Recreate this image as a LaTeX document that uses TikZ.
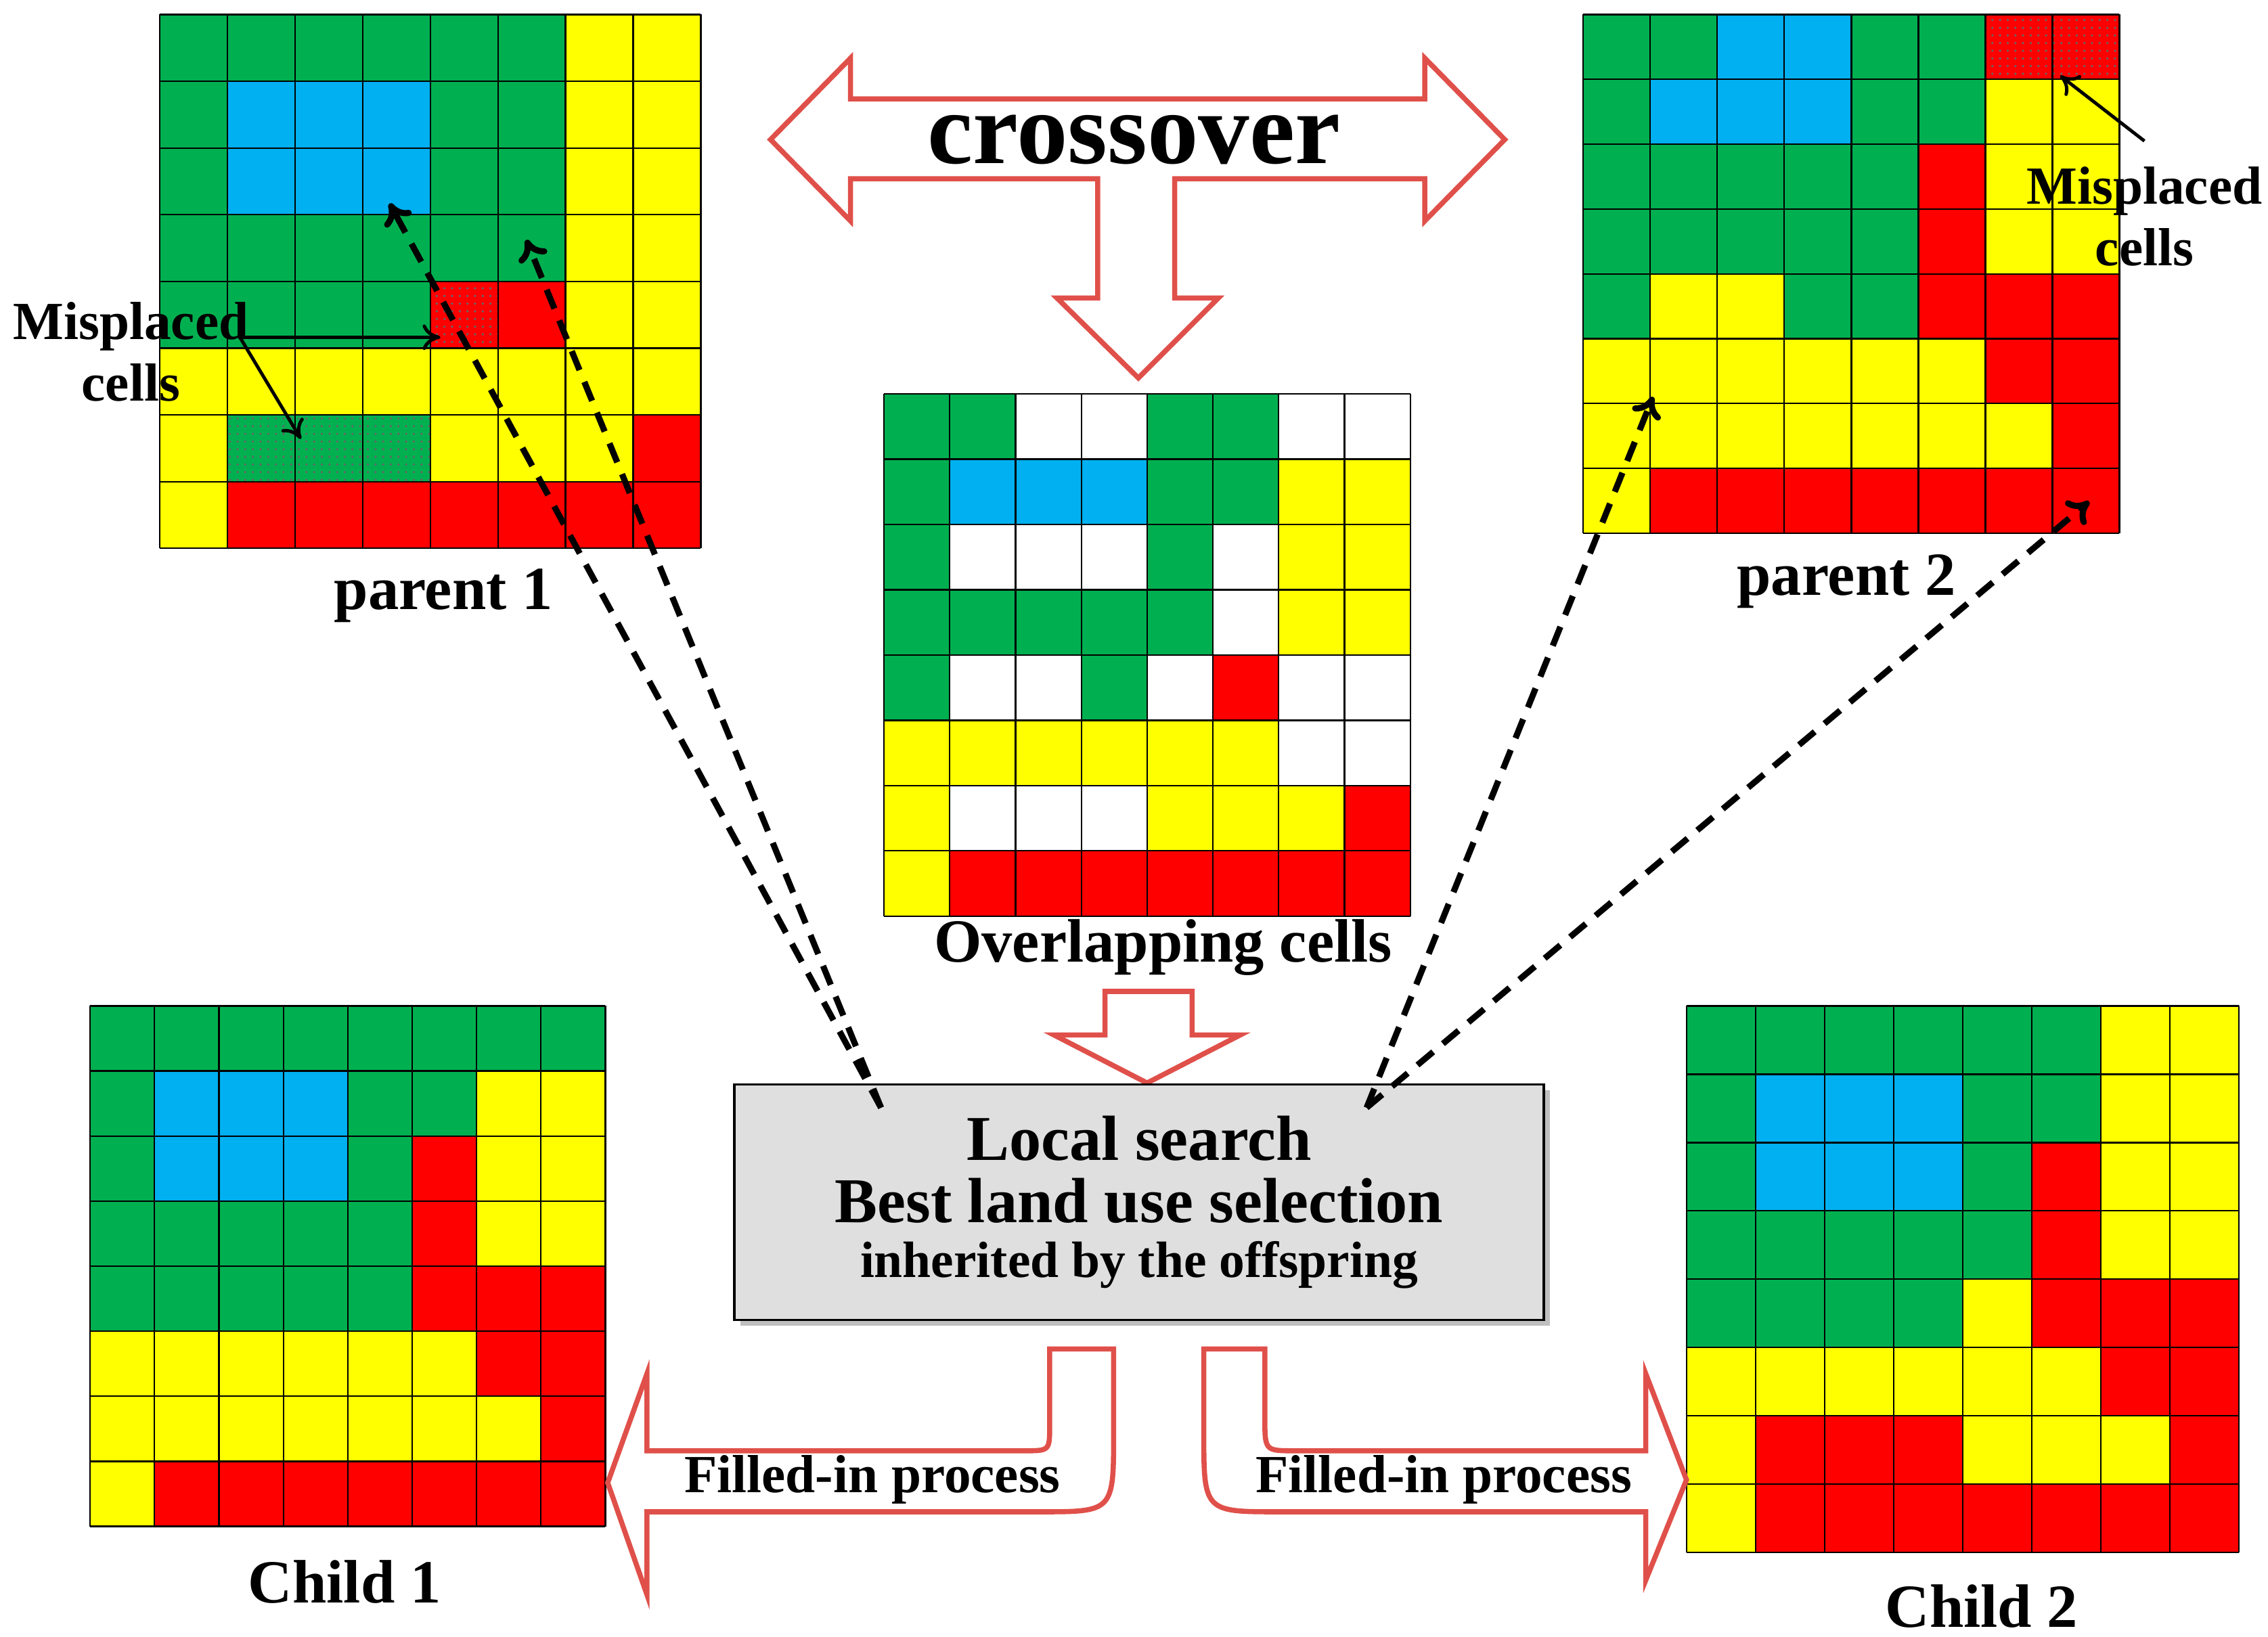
\documentclass[tikz,border=0pt]{standalone}
\usepackage{tikz}
\usepackage{fontspec}
\setmainfont{Liberation Serif}
\usetikzlibrary{patterns,shadows,arrows.meta}
\definecolor{cG}{HTML}{00B050}
\definecolor{cB}{HTML}{00B0F0}
\definecolor{cY}{HTML}{FFFF00}
\definecolor{cR}{HTML}{FF0000}
\definecolor{cW}{HTML}{FFFFFF}
\definecolor{arrowred}{HTML}{E0504A}
\tikzset{
  cell G/.style={fill=cG}, cell B/.style={fill=cB}, cell Y/.style={fill=cY},
  cell R/.style={fill=cR}, cell W/.style={fill=cW},
  cell D/.style={fill=cR, postaction={pattern=dots, pattern color=black!60}},
  cell E/.style={fill=cG, postaction={pattern=dots, pattern color=black!60}},
  gridline/.style={draw=black, line width=0.6pt},
  lbl/.style={font=\bfseries\fontsize{24}{28}\selectfont},
  mis/.style={font=\bfseries\fontsize{21}{24}\selectfont, align=center},
  blockarrow/.style={draw=arrowred, line width=2pt, fill=white},
  dasharrow/.style={line width=2.4pt, dash pattern=on 8pt off 5pt, -{To[length=8pt,width=12pt]}},
  misarrow/.style={line width=1.3pt, -{To[length=7pt,width=10pt]}}
}
% #1 left, #2 top, #3 cell width, #4 cell height, #5 rows
\newcommand\landgrid[5]{%
  \foreach \row [count=\j] in {#5} {
    \foreach \c [count=\i] in \row {
      \path[cell \c] ({#1+(\i-1)*#3},{#2+(\j-1)*#4}) rectangle ++(#3,#4);
    }
  }
  \foreach \k in {0,...,8} {
    \draw[gridline] ({#1+\k*#3},#2) -- ++(0,8*#4);
    \draw[gridline] (#1,{#2+\k*#4}) -- ++(8*#3,0);
  }
}
\begin{document}
\begin{tikzpicture}[x=0.02cm,y=-0.02cm]
\useasboundingbox (0,0) rectangle (1560,1126);

% grids
\landgrid{110}{10}{46.5}{45.9}{{G,G,G,G,G,G,Y,Y},{G,B,B,B,G,G,Y,Y},{G,B,B,B,G,G,Y,Y},{G,G,G,G,G,G,Y,Y},{G,G,G,G,D,R,Y,Y},{Y,Y,Y,Y,Y,Y,Y,Y},{Y,E,E,E,Y,Y,Y,R},{Y,R,R,R,R,R,R,R}}
\landgrid{1089}{10}{46.1}{44.6}{{G,G,B,B,G,G,D,D},{G,B,B,B,G,G,Y,Y},{G,G,G,G,G,R,Y,Y},{G,G,G,G,G,R,Y,Y},{G,Y,Y,G,G,R,R,R},{Y,Y,Y,Y,Y,Y,R,R},{Y,Y,Y,Y,Y,Y,Y,R},{Y,R,R,R,R,R,R,R}}
\landgrid{608}{271}{45.25}{44.9}{{G,G,W,W,G,G,W,W},{G,B,B,B,G,G,Y,Y},{G,W,W,W,G,W,Y,Y},{G,G,G,G,G,W,Y,Y},{G,W,W,G,W,R,W,W},{Y,Y,Y,Y,Y,Y,W,W},{Y,W,W,W,Y,Y,Y,R},{Y,R,R,R,R,R,R,R}}
\landgrid{62}{692}{44.3}{44.75}{{G,G,G,G,G,G,G,G},{G,B,B,B,G,G,Y,Y},{G,B,B,B,G,R,Y,Y},{G,G,G,G,G,R,Y,Y},{G,G,G,G,G,R,R,R},{Y,Y,Y,Y,Y,Y,R,R},{Y,Y,Y,Y,Y,Y,Y,R},{Y,R,R,R,R,R,R,R}}
\landgrid{1160}{692}{47.5}{47}{{G,G,G,G,G,G,Y,Y},{G,B,B,B,G,G,Y,Y},{G,B,B,B,G,R,Y,Y},{G,G,G,G,G,R,Y,Y},{G,G,G,G,Y,R,R,R},{Y,Y,Y,Y,Y,Y,R,R},{Y,R,R,R,Y,Y,Y,R},{Y,R,R,R,R,R,R,R}}

% grid captions
\node[lbl] (p1label) at (305,410) {parent 1};
\node[lbl] (p2label) at (1270,400) {parent 2};
\node[lbl] (ovlabel) at (800,652) {Overlapping cells};
\node[lbl] (c1label) at (237,1088) {Child 1};
\node[lbl] (c2label) at (1363,1105) {Child 2};

% crossover arrow
\draw[blockarrow] (530,96) -- (585,40) -- (585,68) -- (980,68) -- (980,40) -- (1035,96)
  -- (980,152) -- (980,123) -- (808,123) -- (808,205) -- (838,205) -- (783,260)
  -- (727,205) -- (755,205) -- (755,123) -- (585,123) -- (585,152) -- cycle;
\node[font=\bfseries\fontsize{40}{44}\selectfont] (cross) at (780,96) {crossover};

% arrow into the box
\draw[blockarrow] (760,682) -- (820,682) -- (820,712) -- (853,712) -- (789,745)
  -- (725,712) -- (760,712) -- cycle;

% local search box
\node[draw=black, line width=1pt, fill=gray!25, drop shadow, minimum width=11.14cm,
  minimum height=3.24cm, align=center] (search) at (783.5,827)
  {\bfseries\fontsize{25}{28}\selectfont Local search\\[6pt]
   \bfseries\fontsize{25}{28}\selectfont Best land use selection\\[6pt]
   \bfseries\fontsize{20}{24}\selectfont inherited by the offspring};

% filled-in arrows
\draw[blockarrow] (722,928) -- (766,928) -- (766,985) .. controls (766,1040) .. (715,1040)
  -- (445,1040) -- (445,1097) -- (418,1020) -- (445,945) -- (445,998) -- (705,998)
  .. controls (722,998) .. (722,980) -- cycle;
\draw[blockarrow] (870,928) -- (828,928) -- (828,985) .. controls (828,1040) .. (880,1040)
  -- (1132,1040) -- (1132,1087) -- (1160,1018) -- (1132,945) -- (1132,998) -- (890,998)
  .. controls (870,998) .. (870,975) -- cycle;
\node[font=\bfseries\fontsize{21}{24}\selectfont] (fill1) at (600,1018) {Filled-in process};
\node[font=\bfseries\fontsize{21}{24}\selectfont] (fill2) at (993,1018) {Filled-in process};

% misplaced labels
\node[mis] (mis1) at (90,242) {Misplaced\\cells};
\node[mis] (mis2) at (1475,149) {Misplaced\\cells};
\coordinate (m1a) at (303,232);
\coordinate (m1b) at (207,302);
\coordinate (m1o) at (165,232);
\coordinate (m2a) at (1417,52);
\coordinate (m2o) at (1475,97);
\draw[misarrow] (m1o) -- (m1a);
\draw[misarrow] (m1o) -- (m1b);
\draw[misarrow] (m2o) -- (m2a);

% dashed links from the box
\coordinate (sl) at (606,762);
\coordinate (sr) at (940,762);
\coordinate (t1) at (268,140);
\coordinate (t2) at (362,165);
\coordinate (t3) at (1137,273);
\coordinate (t4) at (1437,345);
\draw[dasharrow] (sl) -- (t1);
\draw[dasharrow] (sl) -- (t2);
\draw[dasharrow] (sr) -- (t3);
\draw[dasharrow] (sr) -- (t4);
\end{tikzpicture}
\end{document}
